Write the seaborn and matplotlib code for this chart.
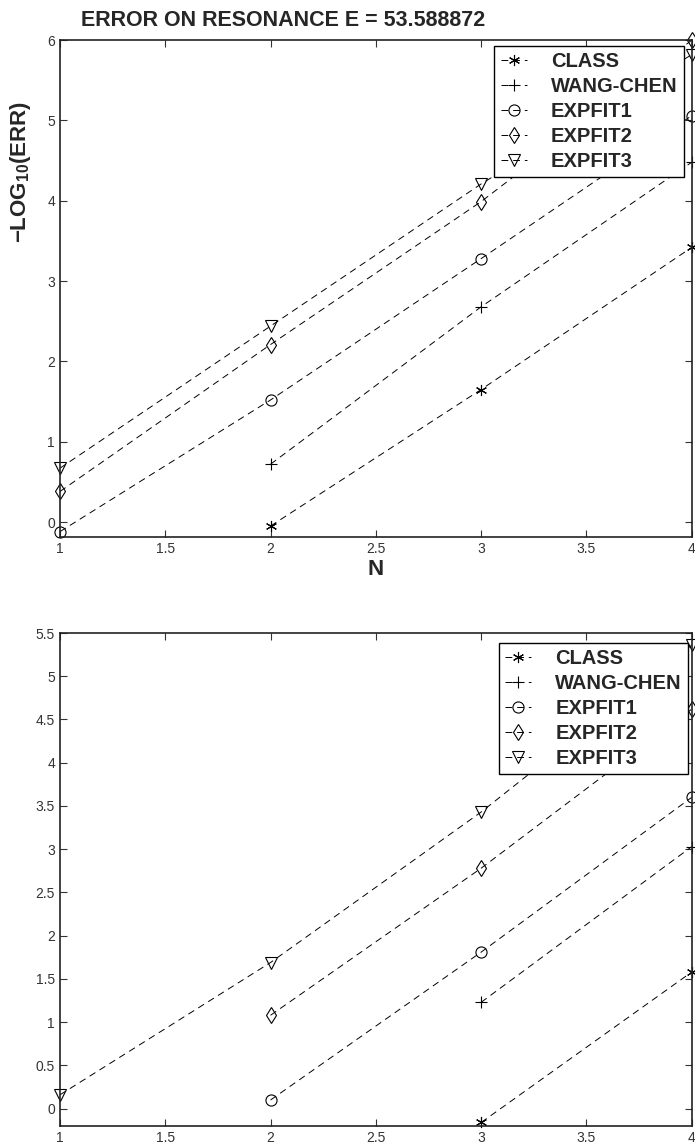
import numpy as np
import pandas as pd
import matplotlib
matplotlib.use('Agg')
import matplotlib.pyplot as plt
import seaborn as sns

sns.set_style('ticks')
plt.rcParams['font.family'] = ['Liberation Sans', 'DejaVu Sans']
plt.rcParams['mathtext.fontset'] = 'custom'
plt.rcParams['mathtext.bf'] = 'Liberation Sans:bold'
plt.rcParams['mathtext.rm'] = 'Liberation Sans:bold'

#### DATA ####
n = [1, 2, 3, 4]
labels = ['CLASS', 'WANG-CHEN', 'EXPFIT1', 'EXPFIT2', 'EXPFIT3']

# top panel
top_class = [np.nan, -0.05, 1.65, 3.42]
top_wang = [np.nan, 0.72, 2.68, 4.48]
top_exp1 = [-0.12, 1.52, 3.28, 5.06]
top_exp2 = [0.38, 2.21, 3.99, 6.00]
top_exp3 = [0.67, 2.44, 4.21, 5.82]

# bottom panel
bot_class = [np.nan, np.nan, -0.16, 1.58]
bot_wang = [np.nan, np.nan, 1.23, 3.03]
bot_exp1 = [np.nan, 0.10, 1.81, 3.60]
bot_exp2 = [np.nan, 1.08, 2.78, 4.62]
bot_exp3 = [0.16, 1.69, 3.43, 5.36]

asterisk = (6, 2, 0)
markers = [asterisk, '+', 'o', 'd', 'v']

fig = plt.figure(figsize=(6.95, 11.48), dpi=100)
ax1 = fig.add_axes([0.0863, 0.532, 0.909, 0.433])
ax2 = fig.add_axes([0.0863, 0.0192, 0.909, 0.4294])


def draw(ax, series, ylim, yticks, anchor):
    for lab, vals, m in zip(labels, series, markers):
        df = pd.DataFrame({'N': n, 'v': vals})
        filled = m in (asterisk, '+')
        sns.lineplot(data=df, x='N', y='v', ax=ax, color='k', linestyle=(0, (7, 5)),
                     linewidth=0.7, marker=m, markersize=8, markeredgewidth=0.8,
                     markerfacecolor='k' if filled else 'none', markeredgecolor='k',
                     label=lab, clip_on=False)
    ax.set_xlim(1, 4)
    ax.set_ylim(*ylim)
    ax.set_xticks([1, 1.5, 2, 2.5, 3, 3.5, 4])
    ax.set_xticklabels(['1', '1.5', '2', '2.5', '3', '3.5', '4'])
    ax.set_yticks(yticks)
    ax.set_yticklabels([('%g' % t) for t in yticks])
    ax.tick_params(direction='in', top=True, right=True, length=5, width=0.8,
                   labelsize=10, labelcolor='#333333', color='#333333')
    for s in ax.spines.values():
        s.set_linewidth(1.2)
        s.set_color('#222222')
    ax.set_xlabel('')
    ax.set_ylabel('')
    leg = ax.legend(loc='upper right', bbox_to_anchor=anchor, frameon=True, fancybox=False,
                    handlelength=1.3, handletextpad=1.2, borderpad=0.3, labelspacing=0.3,
                    prop={'weight': 'bold', 'size': 14.5}, borderaxespad=0)
    leg.get_frame().set_edgecolor('k')
    leg.get_frame().set_linewidth(1.0)
    leg.get_frame().set_alpha(1)


draw(ax1, [top_class, top_wang, top_exp1, top_exp2, top_exp3], (-0.19, 6),
     [0, 1, 2, 3, 4, 5, 6], (0.987, 0.988))
draw(ax2, [bot_class, bot_wang, bot_exp1, bot_exp2, bot_exp3], (-0.2, 5.5),
     [0, 0.5, 1, 1.5, 2, 2.5, 3, 3.5, 4, 4.5, 5, 5.5], (0.994, 0.98))

ax1.set_title('ERROR ON RESONANCE E = 53.588872', fontsize=15.5, fontweight='bold',
              x=0.353, pad=10)
ax1.set_xlabel('N', fontsize=16, fontweight='bold', labelpad=2)
ax1.set_ylabel(r'$\mathbf{-LOG_{10}(ERR)}$', fontsize=16, labelpad=4)
ax1.yaxis.set_label_coords(-0.042, 0.735)

fig.savefig('out.png', dpi=100)
